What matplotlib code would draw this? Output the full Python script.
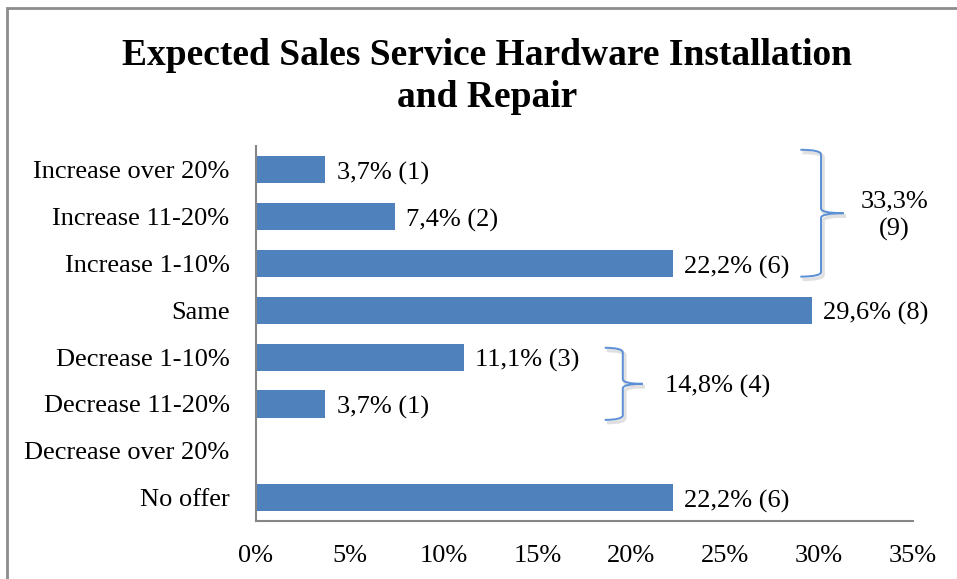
import matplotlib.pyplot as plt
import matplotlib.patheffects as pe
from matplotlib.patches import Rectangle, PathPatch
from matplotlib.path import Path

# survey answers, top row first
categories = ['Increase over 20%', 'Increase 11-20%', 'Increase 1-10%', 'Same',
              'Decrease 1-10%', 'Decrease 11-20%', 'Decrease over 20%', 'No offer']
shares = [3.7, 7.4, 22.2, 29.6, 11.1, 3.7, 0.0, 22.2]
counts = [1, 2, 6, 8, 3, 1, 0, 6]
xticks = [0, 5, 10, 15, 20, 25, 30, 35]

# grouped totals shown next to the curly braces
up_rows = [0, 1, 2]
up_label = '33,3%\n(9)'
down_rows = [4, 5]
down_label = '14,8% (4)'

bar_col = '#4F81BD'
brace_col = '#5B8FD6'
plt.rcParams['font.family'] = ['Liberation Serif', 'DejaVu Serif']

fig = plt.figure(figsize=(9.57, 5.79), dpi=100)
ax = fig.add_axes([0.2675, 0.1002, 0.6865, 0.6468])

# outer chart border (runs past the right and bottom edge)
fig.patches.append(Rectangle((7 / 957, -0.1), 1.2, 1 - 8 / 579 + 0.1,
                             transform=fig.transFigure, fill=False,
                             edgecolor='#8c8c8c', linewidth=2))

ypos = list(range(len(categories)))
ax.barh(ypos, shares, height=0.58, color=bar_col)

for y, v, c in zip(ypos, shares, counts):
    if c == 0:
        continue
    ax.annotate('%s%% (%d)' % (('%.1f' % v).replace('.', ','), c),
                xy=(v, y), xytext=(8, -2.5), textcoords='offset points',
                va='center', ha='left', fontsize=19)

ax.set_ylim(len(categories) - 0.5, -0.5)
ax.set_xlim(0, 35)
ax.set_yticks(ypos)
ax.set_yticklabels(categories, fontsize=19)
ax.set_xticks(xticks)
ax.set_xticklabels(['%d%%' % t for t in xticks], fontsize=19)
ax.tick_params(length=0)
ax.tick_params(axis='y', pad=19)
ax.tick_params(axis='x', pad=17)
for s in ['top', 'right']:
    ax.spines[s].set_visible(False)
for s in ['left', 'bottom']:
    ax.spines[s].set_color('#868686')
    ax.spines[s].set_linewidth(1.5)


def brace(x, y0, y1, tip, arm, r=0.1):
    # right-pointing curly brace in data units, soft corners
    ym = (y0 + y1) / 2
    verts = [(x - arm, y0), (x, y0), (x, y0 + r),
             (x, ym - r), (x, ym), (x + tip, ym),
             (x, ym), (x, ym + r),
             (x, y1 - r), (x, y1), (x - arm, y1)]
    codes = [Path.MOVETO, Path.CURVE3, Path.CURVE3,
             Path.LINETO, Path.CURVE3, Path.CURVE3,
             Path.CURVE3, Path.CURVE3,
             Path.LINETO, Path.CURVE3, Path.CURVE3]
    p = PathPatch(Path(verts, codes), fill=False, edgecolor=brace_col,
                  linewidth=1.4, clip_on=False)
    p.set_path_effects([pe.SimpleLineShadow(offset=(1.5, -2), shadow_color='k',
                                            alpha=0.12, linewidth=2.5),
                        pe.Normal()])
    ax.add_patch(p)


brace(30.1, up_rows[0] - 0.43, up_rows[-1] + 0.28, 1.2, 1.1)
ax.text(34.0, (up_rows[0] + up_rows[-1]) / 2 - 0.02, up_label, ha='center',
        va='center', fontsize=19, linespacing=1.35)

brace(19.54, down_rows[0] - 0.2, down_rows[-1] + 0.34, 1.07, 0.96)
ax.text(21.8, (down_rows[0] + down_rows[-1]) / 2 + 0.12, down_label,
        ha='left', va='center', fontsize=19)

fig.text(0.509, 0.868, 'Expected Sales Service Hardware Installation\nand Repair',
         ha='center', va='center', fontsize=27, fontweight='bold',
         linespacing=1.28)

plt.savefig('out.png', dpi=100)
